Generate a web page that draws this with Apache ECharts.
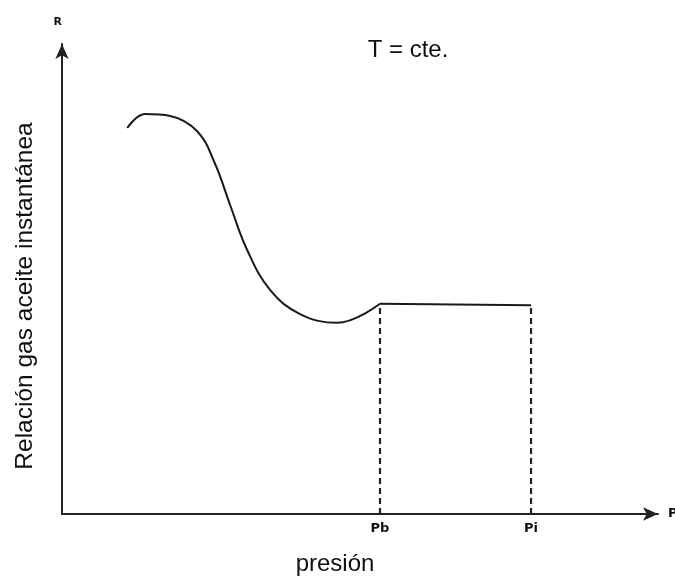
<!DOCTYPE html>
<html>
<head>
<meta charset="utf-8">
<script src="https://cdn.jsdelivr.net/npm/echarts@6/dist/echarts.min.js"></script>
<style>html,body{margin:0;padding:0;background:#fff;}#c{width:675px;height:578px;}</style>
</head>
<body>
<div id="c"></div>
<script>
// Curve: instantaneous gas-oil ratio vs pressure (relative units)
const curveX = [11.1, 14.1, 18.4, 23.0, 26.0, 28.6, 31.5, 35.4, 40.5, 46.8, 54.1];
const curveY = [83.2, 86.2, 85.8, 82.5, 75.6, 66.6, 56.9, 48.3, 43.1, 41.2, 45.3];
const pressureTicks = [54.1, 79.8];
const pressureLabels = ['Pb', 'Pi'];
const flatRatio = [45.3, 45.0];
const xTitle = 'presión';
const yTitle = 'Relación gas aceite instantánea';
const noteText = 'T = cte.';

const chart = echarts.init(document.getElementById('c'));
const curveData = curveX.map((x, i) => [x, curveY[i]]);
const flatData = pressureTicks.map((x, i) => [x, flatRatio[i]]);
const dashSeries = pressureTicks.map((x, i) => ({
  type: 'line', data: [[x, 0], [x, flatRatio[i]]], symbol: 'none', silent: true,
  lineStyle: { color: '#222', width: 2.2, type: [6, 4] }
}));

chart.setOption({
  backgroundColor: '#fff',
  animation: false,
  grid: { left: 62, right: 17, top: 44, bottom: 64, outerBoundsMode: 'none', containLabel: false },
  xAxis: {
    type: 'value', min: 0, max: 101.4,
    name: 'P', nameGap: 10,
    nameTextStyle: { color: '#111', fontSize: 13, fontWeight: 'bold', fontFamily: 'DejaVu Sans', verticalAlign: 'middle' },
    axisLine: { lineStyle: { color: '#222', width: 2 }, symbol: ['none', 'arrow'], symbolSize: [10, 15] },
    axisTick: { show: false },
    splitLine: { show: false },
    axisLabel: {
      customValues: pressureTicks, margin: 8,
      color: '#111', fontSize: 13, fontWeight: 'bold', fontFamily: 'DejaVu Sans',
      formatter: v => { const i = pressureTicks.indexOf(v); return i >= 0 ? pressureLabels[i] : ''; }
    }
  },
  yAxis: {
    type: 'value', min: 0, max: 101.3,
    name: 'R', nameGap: 16,
    nameTextStyle: { color: '#111', fontSize: 11, fontWeight: 'bold', fontFamily: 'DejaVu Sans', align: 'right' },
    axisLine: { lineStyle: { color: '#222', width: 2 }, symbol: ['none', 'arrow'], symbolSize: [10, 15] },
    axisTick: { show: false },
    axisLabel: { show: false },
    splitLine: { show: false }
  },
  graphic: [
    { type: 'text', x: 25, y: 296, rotation: Math.PI / 2,
      style: { text: yTitle, fontSize: 24.5, fontFamily: 'Liberation Sans', fill: '#111', align: 'center', verticalAlign: 'middle' } },
    { type: 'text', x: 335, y: 564,
      style: { text: xTitle, fontSize: 24, fontFamily: 'Liberation Sans', fill: '#111', align: 'center', verticalAlign: 'middle' } },
    { type: 'text', x: 408, y: 50,
      style: { text: noteText, fontSize: 24, fontFamily: 'Liberation Sans', fill: '#111', align: 'center', verticalAlign: 'middle' } }
  ],
  series: [
    { type: 'line', data: curveData, smooth: 0.4, symbol: 'none', silent: true,
      lineStyle: { color: '#1a1a1a', width: 2 } },
    { type: 'line', data: flatData, symbol: 'none', silent: true,
      lineStyle: { color: '#1a1a1a', width: 2 } },
    ...dashSeries
  ]
});
</script>
</body>
</html>
